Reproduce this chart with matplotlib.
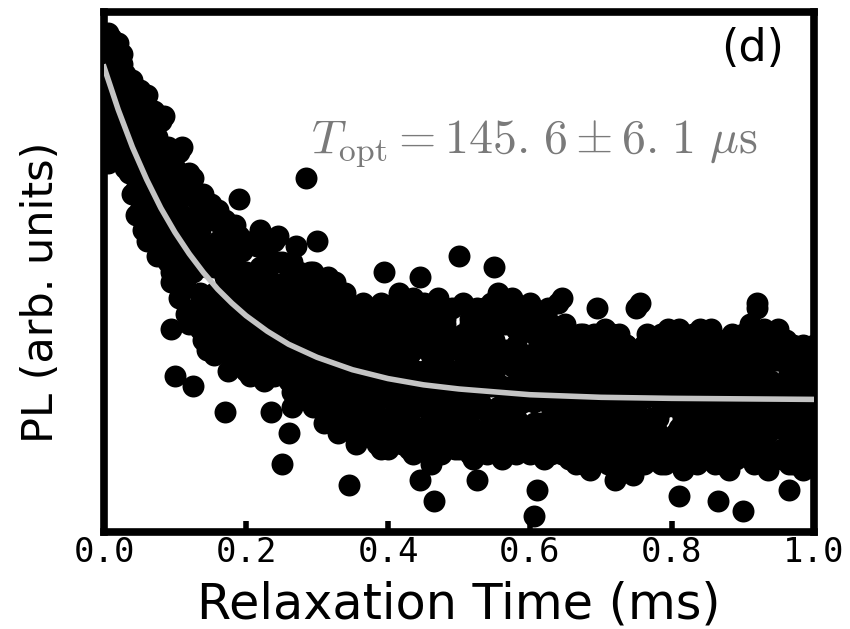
import matplotlib
matplotlib.use('Agg')
import matplotlib.pyplot as plt

# relaxation times (ms), same grid for every repeated run
time_ms = [
    0.000, 0.005, 0.010, 0.015, 0.020, 0.025, 0.030, 0.035, 0.040, 0.045,
    0.050, 0.055, 0.060, 0.065, 0.070, 0.075, 0.080, 0.085, 0.090, 0.095,
    0.100, 0.105, 0.110, 0.115, 0.120, 0.125, 0.130, 0.135, 0.140, 0.145,
    0.150, 0.155, 0.160, 0.165, 0.170, 0.175, 0.180, 0.185, 0.190, 0.195,
    0.200, 0.205, 0.210, 0.215, 0.220, 0.225, 0.230, 0.235, 0.240, 0.245,
    0.250, 0.255, 0.260, 0.265, 0.270, 0.275, 0.280, 0.285, 0.290, 0.295,
    0.300, 0.305, 0.310, 0.315, 0.320, 0.325, 0.330, 0.335, 0.340, 0.345,
    0.350, 0.355, 0.360, 0.365, 0.370, 0.375, 0.380, 0.385, 0.390, 0.395,
    0.400, 0.405, 0.410, 0.415, 0.420, 0.425, 0.430, 0.435, 0.440, 0.445,
    0.450, 0.455, 0.460, 0.465, 0.470, 0.475, 0.480, 0.485, 0.490, 0.495,
    0.500, 0.505, 0.510, 0.515, 0.520, 0.525, 0.530, 0.535, 0.540, 0.545,
    0.550, 0.555, 0.560, 0.565, 0.570, 0.575, 0.580, 0.585, 0.590, 0.595,
    0.600, 0.605, 0.610, 0.615, 0.620, 0.625, 0.630, 0.635, 0.640, 0.645,
    0.650, 0.655, 0.660, 0.665, 0.670, 0.675, 0.680, 0.685, 0.690, 0.695,
    0.700, 0.705, 0.710, 0.715, 0.720, 0.725, 0.730, 0.735, 0.740, 0.745,
    0.750, 0.755, 0.760, 0.765, 0.770, 0.775, 0.780, 0.785, 0.790, 0.795,
    0.800, 0.805, 0.810, 0.815, 0.820, 0.825, 0.830, 0.835, 0.840, 0.845,
    0.850, 0.855, 0.860, 0.865, 0.870, 0.875, 0.880, 0.885, 0.890, 0.895,
    0.900, 0.905, 0.910, 0.915, 0.920, 0.925, 0.930, 0.935, 0.940, 0.945,
    0.950, 0.955, 0.960, 0.965, 0.970, 0.975, 0.980, 0.985, 0.990, 0.995,
    1.000,
]

# PL (arb. units), five repeated runs
pl_run_a = [
    0.93, 0.84, 0.95, 0.80, 0.87, 0.74, 0.83, 0.79, 0.70, 0.81,
    0.76, 0.63, 0.84, 0.70, 0.58, 0.72, 0.66, 0.80, 0.55, 0.62,
    0.70, 0.52, 0.61, 0.47, 0.66, 0.55, 0.43, 0.58, 0.62, 0.45,
    0.55, 0.41, 0.62, 0.37, 0.49, 0.58, 0.33, 0.45, 0.64, 0.39,
    0.50, 0.36, 0.56, 0.42, 0.33, 0.47, 0.39, 0.23, 0.44, 0.52,
    0.13, 0.45, 0.29, 0.52, 0.37, 0.26, 0.41, 0.68, 0.33, 0.47,
    0.56, 0.30, 0.42, 0.25, 0.46, 0.35, 0.22, 0.40, 0.29, 0.09,
    0.28, 0.40, 0.19, 0.35, 0.23, 0.41, 0.31, 0.17, 0.37, 0.50,
    0.38, 0.21, 0.44, 0.27, 0.33, 0.18, 0.40, 0.30, 0.24, 0.10,
    0.31, 0.25, 0.13, 0.40, 0.21, 0.35, 0.28, 0.17, 0.43, 0.24,
    0.53, 0.22, 0.36, 0.15, 0.30, 0.41, 0.25, 0.19, 0.34, 0.28,
    0.51, 0.24, 0.33, 0.19, 0.44, 0.28, 0.36, 0.21, 0.31, 0.39,
    0.27, 0.03, 0.35, 0.21, 0.41, 0.18, 0.30, 0.24, 0.38, 0.45,
    0.36, 0.21, 0.30, 0.13, 0.25, 0.34, 0.18, 0.28, 0.38, 0.22,
    0.29, 0.16, 0.33, 0.22, 0.10, 0.27, 0.35, 0.19, 0.31, 0.24,
    0.43, 0.20, 0.31, 0.26, 0.15, 0.36, 0.22, 0.29, 0.18, 0.34,
    0.27, 0.36, 0.07, 0.22, 0.33, 0.18, 0.30, 0.25, 0.37, 0.20,
    0.22, 0.33, 0.28, 0.06, 0.36, 0.19, 0.30, 0.25, 0.16, 0.34,
    0.04, 0.27, 0.34, 0.21, 0.44, 0.30, 0.17, 0.36, 0.23, 0.28,
    0.33, 0.22, 0.28, 0.08, 0.35, 0.19, 0.30, 0.25, 0.16, 0.34,
    0.29,
]
pl_run_b = [
    0.86, 0.78, 0.90, 0.92, 0.76, 0.85, 0.72, 0.86, 0.78, 0.66,
    0.67, 0.79, 0.60, 0.74, 0.81, 0.57, 0.70, 0.61, 0.68, 0.50,
    0.30, 0.64, 0.49, 0.57, 0.40, 0.68, 0.53, 0.46, 0.37, 0.60,
    0.43, 0.60, 0.35, 0.52, 0.23, 0.47, 0.56, 0.38, 0.50, 0.54,
    0.38, 0.49, 0.32, 0.55, 0.41, 0.35, 0.46, 0.40, 0.30, 0.37,
    0.40, 0.48, 0.19, 0.34, 0.43, 0.50, 0.28, 0.39, 0.45, 0.24,
    0.38, 0.45, 0.27, 0.41, 0.33, 0.48, 0.37, 0.24, 0.43, 0.31,
    0.36, 0.22, 0.33, 0.42, 0.29, 0.20, 0.38, 0.34, 0.26, 0.32,
    0.26, 0.35, 0.30, 0.42, 0.20, 0.37, 0.23, 0.45, 0.31, 0.36,
    0.20, 0.37, 0.29, 0.06, 0.33, 0.26, 0.41, 0.30, 0.19, 0.36,
    0.29, 0.38, 0.18, 0.33, 0.26, 0.10, 0.37, 0.43, 0.23, 0.31,
    0.30, 0.41, 0.16, 0.35, 0.27, 0.45, 0.22, 0.38, 0.25, 0.18,
    0.44, 0.25, 0.08, 0.32, 0.27, 0.37, 0.15, 0.29, 0.22, 0.33,
    0.24, 0.33, 0.17, 0.37, 0.28, 0.20, 0.31, 0.12, 0.26, 0.35,
    0.21, 0.36, 0.25, 0.30, 0.18, 0.34, 0.14, 0.28, 0.23, 0.11,
    0.24, 0.34, 0.17, 0.30, 0.37, 0.21, 0.28, 0.13, 0.32, 0.25,
    0.33, 0.19, 0.29, 0.38, 0.15, 0.26, 0.35, 0.21, 0.17, 0.31,
    0.37, 0.17, 0.31, 0.24, 0.20, 0.35, 0.14, 0.29, 0.33, 0.22,
    0.31, 0.20, 0.16, 0.37, 0.26, 0.33, 0.23, 0.19, 0.35, 0.15,
    0.20, 0.37, 0.15, 0.31, 0.24, 0.34, 0.18, 0.36, 0.27, 0.21,
    0.20,
]
pl_run_c = [
    0.80, 0.96, 0.73, 0.86, 0.94, 0.80, 0.88, 0.69, 0.83, 0.75,
    0.82, 0.71, 0.56, 0.65, 0.69, 0.76, 0.59, 0.64, 0.74, 0.39,
    0.58, 0.73, 0.54, 0.42, 0.59, 0.50, 0.64, 0.39, 0.55, 0.51,
    0.61, 0.46, 0.53, 0.40, 0.57, 0.36, 0.48, 0.59, 0.42, 0.33,
    0.45, 0.34, 0.43, 0.37, 0.51, 0.29, 0.53, 0.48, 0.36, 0.57,
    0.47, 0.36, 0.42, 0.27, 0.49, 0.38, 0.44, 0.31, 0.50, 0.36,
    0.24, 0.39, 0.47, 0.32, 0.21, 0.37, 0.44, 0.34, 0.26, 0.38,
    0.19, 0.34, 0.39, 0.26, 0.37, 0.32, 0.24, 0.41, 0.30, 0.21,
    0.33, 0.19, 0.28, 0.24, 0.39, 0.31, 0.16, 0.35, 0.41, 0.27,
    0.39, 0.18, 0.34, 0.27, 0.43, 0.22, 0.32, 0.38, 0.26, 0.16,
    0.35, 0.27, 0.31, 0.40, 0.20, 0.34, 0.16, 0.28, 0.39, 0.21,
    0.22, 0.35, 0.28, 0.40, 0.20, 0.32, 0.17, 0.26, 0.43, 0.29,
    0.19, 0.38, 0.29, 0.16, 0.34, 0.26, 0.40, 0.20, 0.31, 0.23,
    0.30, 0.18, 0.36, 0.24, 0.32, 0.14, 0.27, 0.35, 0.21, 0.43,
    0.34, 0.23, 0.18, 0.38, 0.27, 0.21, 0.30, 0.17, 0.35, 0.29,
    0.30, 0.15, 0.27, 0.35, 0.22, 0.31, 0.19, 0.38, 0.24, 0.16,
    0.16, 0.30, 0.24, 0.27, 0.35, 0.31, 0.14, 0.34, 0.28, 0.23,
    0.29, 0.25, 0.36, 0.32, 0.27, 0.15, 0.34, 0.21, 0.37, 0.18,
    0.25, 0.35, 0.29, 0.14, 0.32, 0.19, 0.38, 0.27, 0.21, 0.33,
    0.28, 0.16, 0.34, 0.26, 0.13, 0.30, 0.23, 0.19, 0.33, 0.25,
    0.33,
]
pl_run_d = [
    0.89, 0.71, 0.82, 0.77, 0.84, 0.90, 0.76, 0.81, 0.87, 0.61,
    0.62, 0.58, 0.73, 0.78, 0.63, 0.67, 0.54, 0.71, 0.52, 0.66,
    0.49, 0.56, 0.67, 0.60, 0.51, 0.28, 0.58, 0.62, 0.44, 0.35,
    0.38, 0.51, 0.44, 0.59, 0.35, 0.50, 0.42, 0.53, 0.36, 0.47,
    0.31, 0.43, 0.39, 0.47, 0.35, 0.45, 0.33, 0.38, 0.42, 0.34,
    0.33, 0.41, 0.35, 0.44, 0.30, 0.46, 0.36, 0.42, 0.27, 0.40,
    0.44, 0.27, 0.36, 0.49, 0.38, 0.29, 0.41, 0.31, 0.35, 0.22,
    0.33, 0.29, 0.25, 0.31, 0.40, 0.27, 0.35, 0.22, 0.44, 0.28,
    0.22, 0.43, 0.36, 0.32, 0.27, 0.23, 0.34, 0.19, 0.29, 0.49,
    0.27, 0.42, 0.22, 0.31, 0.17, 0.38, 0.24, 0.35, 0.30, 0.29,
    0.19, 0.32, 0.26, 0.23, 0.37, 0.29, 0.42, 0.33, 0.17, 0.40,
    0.37, 0.19, 0.42, 0.26, 0.33, 0.23, 0.39, 0.30, 0.20, 0.34,
    0.33, 0.21, 0.26, 0.39, 0.19, 0.31, 0.24, 0.36, 0.17, 0.28,
    0.19, 0.28, 0.25, 0.31, 0.16, 0.38, 0.23, 0.29, 0.33, 0.17,
    0.17, 0.30, 0.27, 0.14, 0.33, 0.25, 0.20, 0.36, 0.26, 0.32,
    0.19, 0.28, 0.36, 0.21, 0.29, 0.17, 0.33, 0.25, 0.35, 0.28,
    0.35, 0.24, 0.20, 0.31, 0.26, 0.37, 0.22, 0.18, 0.32, 0.27,
    0.18, 0.30, 0.21, 0.35, 0.13, 0.28, 0.24, 0.36, 0.26, 0.31,
    0.36, 0.18, 0.24, 0.30, 0.17, 0.26, 0.31, 0.15, 0.29, 0.37,
    0.36, 0.26, 0.21, 0.18, 0.31, 0.27, 0.35, 0.22, 0.29, 0.15,
    0.24,
]
pl_run_e = [
    0.91, 0.76, 0.88, 0.72, 0.79, 0.92, 0.70, 0.84, 0.65, 0.78,
    0.85, 0.66, 0.77, 0.59, 0.75, 0.53, 0.79, 0.57, 0.70, 0.48,
    0.63, 0.45, 0.74, 0.51, 0.69, 0.41, 0.60, 0.54, 0.65, 0.40,
    0.63, 0.34, 0.56, 0.44, 0.60, 0.31, 0.54, 0.40, 0.57, 0.45,
    0.55, 0.30, 0.48, 0.40, 0.58, 0.32, 0.50, 0.44, 0.56, 0.31,
    0.52, 0.31, 0.46, 0.24, 0.55, 0.33, 0.49, 0.27, 0.43, 0.50,
    0.33, 0.47, 0.21, 0.43, 0.28, 0.45, 0.19, 0.40, 0.46, 0.27,
    0.42, 0.17, 0.36, 0.44, 0.20, 0.43, 0.18, 0.39, 0.16, 0.41,
    0.16, 0.40, 0.22, 0.46, 0.17, 0.43, 0.26, 0.15, 0.44, 0.20,
    0.44, 0.16, 0.41, 0.19, 0.45, 0.15, 0.40, 0.21, 0.37, 0.18,
    0.16, 0.44, 0.20, 0.41, 0.14, 0.43, 0.18, 0.40, 0.15, 0.44,
    0.16, 0.46, 0.14, 0.42, 0.17, 0.44, 0.15, 0.41, 0.18, 0.43,
    0.15, 0.42, 0.18, 0.40, 0.14, 0.43, 0.17, 0.39, 0.44, 0.15,
    0.40, 0.14, 0.36, 0.16, 0.38, 0.13, 0.35, 0.15, 0.37, 0.14,
    0.14, 0.39, 0.13, 0.37, 0.15, 0.38, 0.12, 0.36, 0.14, 0.34,
    0.15, 0.44, 0.13, 0.38, 0.16, 0.36, 0.14, 0.37, 0.13, 0.39,
    0.38, 0.14, 0.39, 0.12, 0.37, 0.15, 0.38, 0.13, 0.39, 0.16,
    0.14, 0.39, 0.13, 0.36, 0.15, 0.37, 0.12, 0.38, 0.14, 0.36,
    0.38, 0.15, 0.40, 0.13, 0.43, 0.14, 0.39, 0.12, 0.37, 0.15,
    0.39, 0.14, 0.37, 0.13, 0.36, 0.16, 0.35, 0.12, 0.35, 0.14,
    0.36,
]

# fitted decay curve
fit_t = [0.00, 0.02, 0.04, 0.06, 0.08, 0.10, 0.12, 0.14, 0.16, 0.18, 0.20,
         0.23, 0.26, 0.30, 0.35, 0.40, 0.45, 0.50, 0.60, 0.70, 0.80, 0.90, 1.00]
fit_pl = [0.894, 0.812, 0.740, 0.678, 0.623, 0.576, 0.535, 0.499, 0.467, 0.440,
          0.416, 0.386, 0.361, 0.336, 0.312, 0.295, 0.283, 0.275, 0.264, 0.259,
          0.257, 0.256, 0.255]

x_ticks = [0.0, 0.2, 0.4, 0.6, 0.8, 1.0]
x_tick_labels = ['0.0', '0.2', '0.4', '0.6', '0.8', '1.0']

plt.rcParams['mathtext.fontset'] = 'cm'

fig = plt.figure(figsize=(8.5, 6.29), dpi=100)
ax = fig.add_axes([0.1224, 0.1542, 0.8352, 0.8268])

for run in (pl_run_a, pl_run_b, pl_run_c, pl_run_d, pl_run_e):
    ax.scatter(time_ms, run, s=250, c='black', linewidths=0, zorder=2)

ax.plot(fit_t, fit_pl, color='#c4c4c4', lw=4, zorder=3)

ax.set_xlim(0, 1.0)
ax.set_ylim(0, 1.0)
ax.set_yticks([])
ax.set_xticks(x_ticks)
ax.set_xticklabels(x_tick_labels, fontfamily='DejaVu Sans Mono')
ax.tick_params(axis='x', direction='in', length=8, width=4, pad=3, labelsize=24.5)
for sp in ax.spines.values():
    sp.set_linewidth(5.5)

ax.set_xlabel('Relaxation Time (ms)', fontsize=35.5, labelpad=8)
ax.set_ylabel('PL (arb. units)', fontsize=31)
ax.yaxis.set_label_coords(-0.059, 0.46)

ax.text(0.958, 0.972, '(d)', transform=ax.transAxes, ha='right', va='top', fontsize=32)
ax.text(0.606, 0.729,
        r'$T_{\rm opt} = 145.\hspace{0.12}6 \pm 6.\hspace{0.12}1\ \mu{\rm s}$',
        transform=ax.transAxes, ha='center', va='baseline', fontsize=34.5, color='#7a7a7a')

fig.savefig('out.png', dpi=100)
